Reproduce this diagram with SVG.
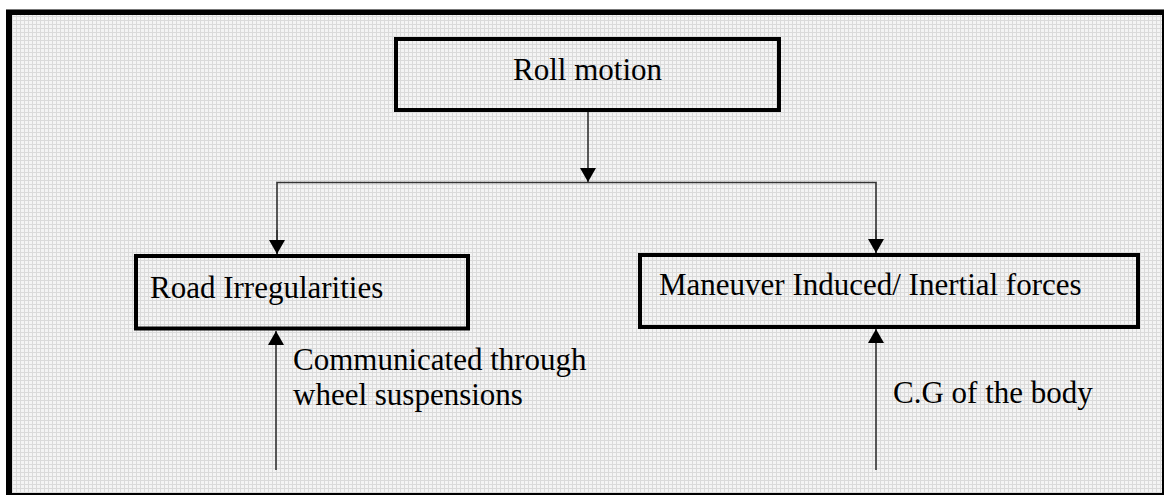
<svg xmlns="http://www.w3.org/2000/svg" width="1167" height="496" viewBox="0 0 1167 496">
<style>
.box{fill:none;stroke:#000;stroke-width:4}
.lbl{font-family:"Liberation Serif","Times New Roman",serif;font-size:31px;fill:#000}
.con{fill:none;stroke:#333;stroke-width:1.6}
</style>
<defs>
<pattern id="grid" width="4" height="4" patternUnits="userSpaceOnUse">
<rect width="4" height="4" fill="#f4f4f4"/>
<rect x="0" y="0" width="1" height="4" fill="#dadada"/>
<rect x="0" y="0" width="4" height="1" fill="#dadada"/>
</pattern>
<marker id="ah" viewBox="0 0 14 16" refX="14" refY="8" markerWidth="14" markerHeight="16" markerUnits="userSpaceOnUse" orient="auto">
<path d="M0,0 L14,8 L0,16 Z" fill="#000"/>
</marker>
</defs>
<rect x="0" y="0" width="1167" height="496" fill="#fff"/>
<g id="frame">
<rect x="6" y="9" width="1158" height="486" fill="url(#grid)"/>
<rect x="6" y="9" width="1158" height="1" fill="#777"/>
<rect x="6" y="10" width="1158" height="5" fill="#000"/>
<rect x="6" y="10" width="6" height="485" fill="#000"/>
<rect x="1162" y="10" width="2" height="485" fill="#000"/>
<rect x="6" y="493" width="1158" height="2" fill="#000"/>
</g>
<g id="connectors">
<line class="con" x1="588" y1="112" x2="588" y2="182" marker-end="url(#ah)"/>
<polyline class="con" points="277,254 277,182.5 876,182.5 876,253"/>
<line class="con" x1="277" y1="230" x2="277" y2="254" marker-end="url(#ah)"/>
<line class="con" x1="876" y1="230" x2="876" y2="253" marker-end="url(#ah)"/>
<line class="con" x1="276" y1="470" x2="276" y2="331" marker-end="url(#ah)"/>
<line class="con" x1="876" y1="470" x2="876" y2="329" marker-end="url(#ah)"/>
</g>
<g id="roll">
<rect class="box" x="396" y="39" width="383" height="71"/>
<text class="lbl" x="587.5" y="80" text-anchor="middle">Roll motion</text>
</g>
<g id="road">
<rect class="box" x="136" y="256" width="332" height="72.5"/>
<text class="lbl" x="150" y="298">Road Irregularities</text>
</g>
<g id="maneuver">
<rect class="box" x="640" y="255" width="498" height="72"/>
<text class="lbl" x="659" y="295">Maneuver Induced/ Inertial forces</text>
</g>
<g id="labels">
<text class="lbl" x="293" y="370">Communicated through</text>
<text class="lbl" x="293" y="405">wheel suspensions</text>
<text class="lbl" x="893" y="403">C.G of the body</text>
</g>
</svg>
